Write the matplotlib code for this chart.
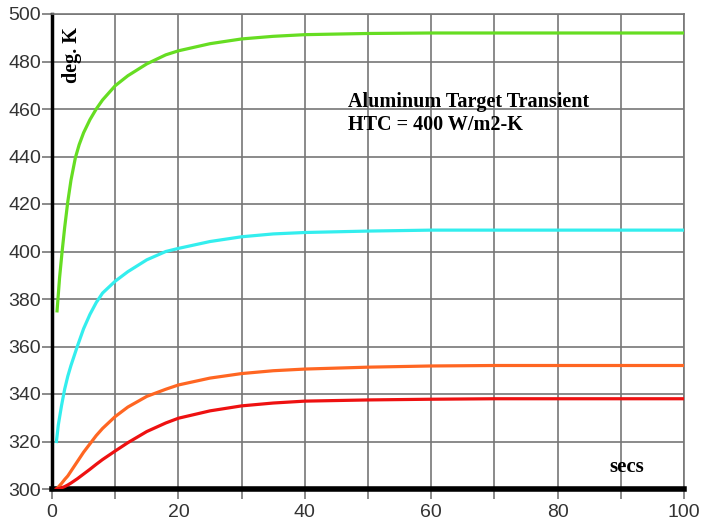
import matplotlib
matplotlib.use("Agg")
import matplotlib.pyplot as plt

# (secs, deg. K)
t_green = [0.8, 1.2, 1.6, 2, 2.5, 3, 3.7, 4.3, 5, 6, 7, 8, 10, 12, 15, 18, 20, 25, 30, 35, 40, 50, 60, 70, 80, 90, 100]
green = [375, 389, 400, 410, 421, 430, 439.5, 445, 450, 455.5, 460, 463.8, 469.8, 474, 479, 482.8, 484.5, 487.5, 489.5, 490.6, 491.3, 491.8, 492, 492, 492, 492, 492]

t = [0.7, 1, 1.5, 2, 2.5, 3, 4, 5, 6, 7, 8, 10, 12, 15, 18, 20, 25, 30, 35, 40, 50, 60, 70, 80, 90, 100]
cyan = [320, 327, 335, 342, 347.5, 352, 360, 367.5, 373.5, 378.5, 382.5, 387.5, 391.5, 396.5, 400, 401.3, 404.2, 406.2, 407.4, 408, 408.6, 409, 409, 409, 409, 409]
orange = [300, 300.8, 302.3, 304, 305.5, 307.5, 311.5, 315.5, 319, 322.5, 325.5, 330.5, 334.5, 339, 342, 343.8, 346.7, 348.6, 349.8, 350.5, 351.3, 351.8, 352, 352, 352, 352]
red = [300, 300.1, 300.5, 301, 301.7, 302.5, 304.3, 306.3, 308.3, 310.4, 312.4, 316, 319.5, 324.2, 327.8, 329.8, 332.9, 335, 336.2, 337, 337.5, 337.8, 338, 338, 338, 338]

colors = {"green": "#66dd22", "cyan": "#33eeee", "orange": "#ff6622", "red": "#ee1111"}

fig = plt.figure(figsize=(7.15, 5.23), dpi=100)
ax = fig.add_axes([52/715, 34/523, 632/715, 475/523])

ax.plot(t_green, green, color=colors["green"], lw=2.3, zorder=3)
ax.plot(t, cyan, color=colors["cyan"], lw=2.3, zorder=3)
ax.plot(t, orange, color=colors["orange"], lw=2.3, zorder=3)
ax.plot(t, red, color=colors["red"], lw=2.3, zorder=3)

ax.set_xlim(0, 100)
ax.set_ylim(300, 500)
ax.set_xticks(range(0, 101, 20))
ax.set_xticks(range(10, 100, 20), minor=True)
ax.set_yticks(range(300, 501, 20))
ax.grid(True, which="both", color="#777777", lw=1.2)
ax.tick_params(axis="both", which="both", length=7.5, width=1.2, color="#777777",
               labelsize=14, labelcolor="#333333")
ax.tick_params(axis="x", pad=3)
ax.tick_params(axis="y", pad=0.5)
for lab in ax.get_xticklabels() + ax.get_yticklabels():
    lab.set_family("Liberation Sans")

ax.spines["left"].set_linewidth(2.5)
ax.spines["bottom"].set_linewidth(4)
ax.spines["left"].set_color("black")
ax.spines["bottom"].set_color("black")
ax.spines["top"].set_color("#777777")
ax.spines["right"].set_color("#777777")
ax.spines["top"].set_linewidth(1.2)
ax.spines["right"].set_linewidth(1.2)

serif = dict(family="Liberation Serif", weight="bold", color="black")
ax.text(3.2, 494.5, "deg. K", rotation=90, va="top", ha="center", fontsize=14.5, **serif)
ax.text(46.8, 463, "Aluminum Target Transient", fontsize=14.5, va="center", **serif)
ax.text(46.8, 453.3, "HTC = 400 W/m2-K", fontsize=14.5, va="center", **serif)
ax.text(91, 309.3, "secs", fontsize=15, ha="center", va="center", **serif)

fig.savefig("out.png", dpi=100)
